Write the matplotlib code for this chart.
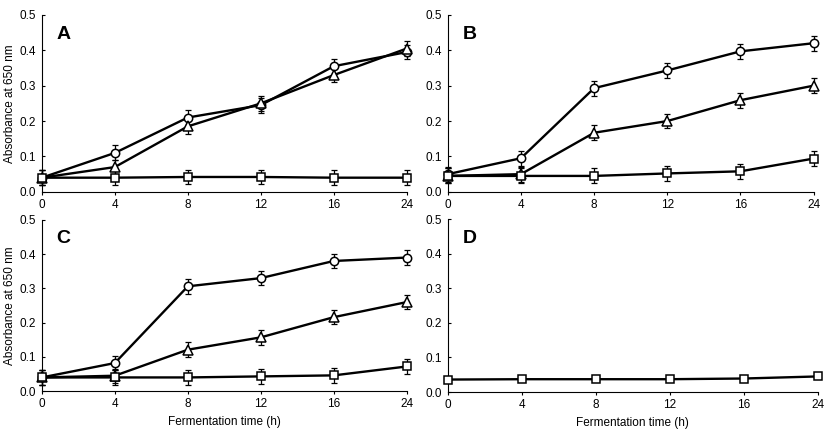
import matplotlib
matplotlib.use("Agg")
import matplotlib.pyplot as plt

plt.rcParams['font.family'] = ['Liberation Sans', 'DejaVu Sans']

hours = ["0", "4", "8", "12", "16", "24"]

# panel A
a_circle = [0.040, 0.110, 0.210, 0.245, 0.355, 0.395]
a_tri = [0.040, 0.070, 0.185, 0.250, 0.330, 0.405]
a_square = [0.040, 0.040, 0.042, 0.042, 0.040, 0.040]
# panel B
b_circle = [0.050, 0.095, 0.293, 0.343, 0.397, 0.420]
b_tri = [0.045, 0.050, 0.167, 0.200, 0.259, 0.300]
b_square = [0.045, 0.045, 0.045, 0.052, 0.058, 0.094]
# panel C
c_circle = [0.040, 0.082, 0.306, 0.330, 0.380, 0.390]
c_tri = [0.040, 0.045, 0.121, 0.157, 0.216, 0.260]
c_square = [0.040, 0.040, 0.040, 0.043, 0.046, 0.072]
# panel D
d_square = [0.036, 0.037, 0.037, 0.037, 0.039, 0.045]

err = 0.021

fig = plt.figure(figsize=(8.37, 4.38), dpi=100)
boxes = {
    "A": [0.050, 0.562, 0.436, 0.404],
    "B": [0.535, 0.562, 0.437, 0.404],
    "C": [0.050, 0.107, 0.436, 0.391],
    "D": [0.535, 0.105, 0.442, 0.395],
}
panels = {
    "A": [(a_circle, "o", err), (a_tri, "^", err), (a_square, "s", err)],
    "B": [(b_circle, "o", err), (b_tri, "^", err), (b_square, "s", err)],
    "C": [(c_circle, "o", err), (c_tri, "^", err), (c_square, "s", err)],
    "D": [(d_square, "s", 0)],
}

xs = list(range(len(hours)))
for name, box in boxes.items():
    ax = fig.add_axes(box)
    for vals, mk, e in panels[name]:
        ms = 6.5 if mk == "^" else 6
        if e:
            ax.errorbar(xs, vals, yerr=e, fmt="none", ecolor="black",
                        elinewidth=0.9, capsize=2.2, capthick=0.9, clip_on=False, zorder=2)
        ax.plot(xs, vals, color="black", lw=1.7, marker=mk, ms=ms,
                mfc="white", mec="black", mew=1.1, clip_on=False, zorder=3)
    ax.set_xlim(0, 5)
    ax.set_ylim(0, 0.5)
    ax.set_xticks(xs)
    ax.set_xticklabels(hours)
    ax.set_yticks([0, 0.1, 0.2, 0.3, 0.4, 0.5])
    ax.set_yticklabels(["0.0", "0.1", "0.2", "0.3", "0.4", "0.5"])
    ax.spines["top"].set_visible(False)
    ax.spines["right"].set_visible(False)
    ax.tick_params(axis="both", labelsize=8.5, width=0.8)
    ax.tick_params(axis="y", direction="in", length=2.5, pad=4)
    ax.tick_params(axis="x", direction="out", length=2, pad=3)
    ax.text(0.04, 0.89, name, transform=ax.transAxes, fontsize=14,
            fontweight="bold", ha="left", va="center")
    if name in ("A", "C"):
        ax.set_ylabel("Absorbance at 650 nm", fontsize=8.5, labelpad=3)
    if name in ("C", "D"):
        ax.set_xlabel("Fermentation time (h)", fontsize=8.5, labelpad=4)

fig.savefig("out.png", dpi=100)
